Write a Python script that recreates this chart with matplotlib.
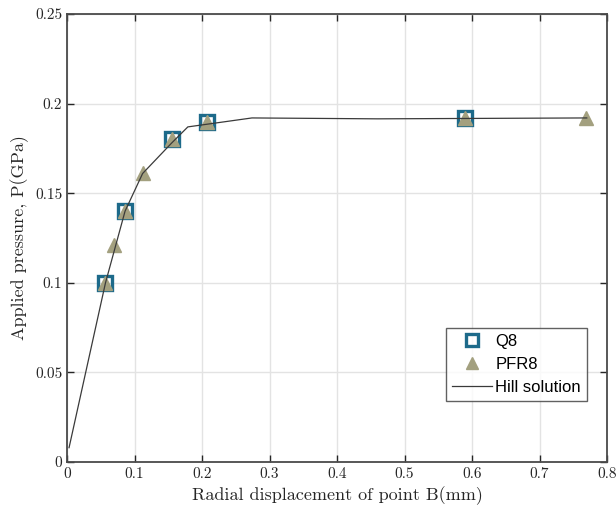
import matplotlib
matplotlib.use('Agg')
import matplotlib.pyplot as plt

# data
q8_x = [0.057, 0.086, 0.155, 0.208, 0.590]
q8_y = [0.100, 0.140, 0.180, 0.190, 0.192]

pfr8_x = [0.057, 0.070, 0.086, 0.112, 0.155, 0.208, 0.590, 0.769]
pfr8_y = [0.100, 0.121, 0.140, 0.161, 0.180, 0.190, 0.192, 0.192]

hill_x = [0.003, 0.057, 0.086, 0.112, 0.155, 0.179, 0.274, 0.460, 0.770]
hill_y = [0.008, 0.100, 0.140, 0.161, 0.178, 0.187, 0.192, 0.1915, 0.192]

xticks = [0, 0.1, 0.2, 0.3, 0.4, 0.5, 0.6, 0.7, 0.8]
xtick_labels = ['0', '0.1', '0.2', '0.3', '0.4', '0.5', '0.6', '0.7', '0.8']
yticks = [0, 0.05, 0.1, 0.15, 0.2, 0.25]
ytick_labels = ['0', '0.05', '0.1', '0.15', '0.2', '0.25']

plt.rcParams['mathtext.fontset'] = 'cm'
plt.rcParams['font.family'] = ['cmr10', 'DejaVu Serif']
plt.rcParams['axes.unicode_minus'] = False

fig = plt.figure(figsize=(6.16, 5.09), dpi=100)
ax = fig.add_axes([0.1088, 0.0923, 0.8766, 0.8802])

ax.plot(q8_x, q8_y, linestyle='none', marker='s', markersize=10.5,
        markerfacecolor='none', markeredgecolor='#1d6a8a', markeredgewidth=2.4,
        label='Q8', zorder=3)
ax.plot(pfr8_x, pfr8_y, linestyle='none', marker='^', markersize=10,
        markerfacecolor='#a3a07f', markeredgecolor='#a3a07f',
        label='PFR8', zorder=4)
ax.plot(hill_x, hill_y, color='#3a3a3a', linewidth=0.9,
        label='Hill solution', zorder=5)

ax.set_xlim(0, 0.8)
ax.set_ylim(0, 0.25)
ax.set_xticks(xticks)
ax.set_xticklabels(xtick_labels)
ax.set_yticks(yticks)
ax.set_yticklabels(ytick_labels)
ax.tick_params(direction='in', top=True, right=True, labelsize=11,
               colors='#262626', length=5, width=1.0)
for s in ax.spines.values():
    s.set_color('#4a4a4a')
    s.set_linewidth(1.3)
ax.grid(True, color='#e3e3e3', linewidth=1.0)
ax.set_axisbelow(True)

ax.set_xlabel('Radial displacement of point B(mm)', fontsize=13, color='#262626')
ax.set_ylabel('Applied pressure, P(GPa)', fontsize=13, color='#262626')

leg = ax.legend(loc='lower right', bbox_to_anchor=(0.972, 0.125),
                prop={'family': 'Liberation Sans', 'size': 12},
                frameon=True, fancybox=False, borderaxespad=0.3,
                handlelength=2.4, handletextpad=0.2, labelspacing=0.5,
                borderpad=0.35, markerscale=0.8)
leg.get_frame().set_edgecolor('#3a3a3a')
leg.get_frame().set_linewidth(1.0)

fig.savefig('out.png', dpi=100)
